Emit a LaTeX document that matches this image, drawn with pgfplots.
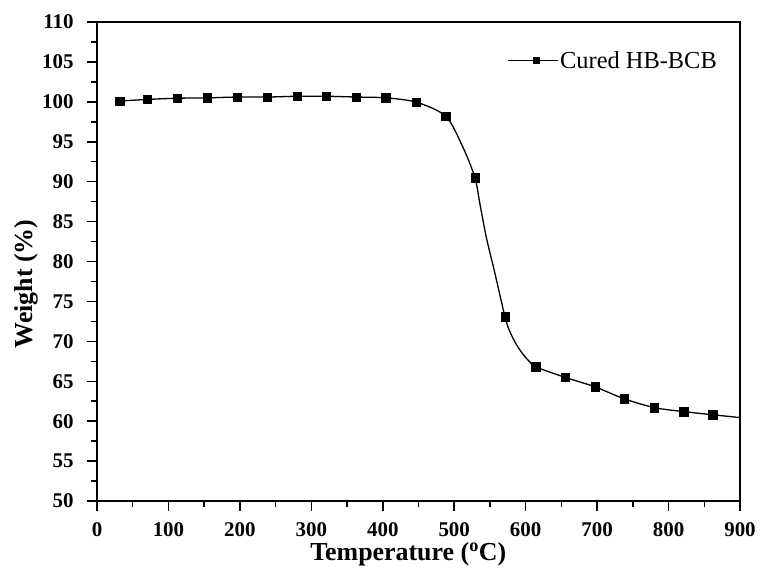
\documentclass[border=0pt]{standalone}
\usepackage{pgfplots}
\pgfplotsset{compat=1.18}
\usepackage{fontspec}
\setmainfont{Liberation Serif}
\begin{document}
\begin{tikzpicture}
\begin{axis}[
  scale only axis,
  width=643bp, height=479bp,
  xmin=0, xmax=900, ymin=50, ymax=110,
  xtick={0,100,...,900}, ytick={50,55,...,110},
  minor x tick num=1, minor y tick num=1,
  axis line style={line width=1.8bp},
  every tick/.style={black, line width=1.5bp},
  major tick length=10bp, minor tick length=5.5bp,
  tick align=outside,
  xtick pos=bottom, ytick pos=left,
  /pgf/number format/assume math mode=true,
  /pgf/number format/1000 sep={},
  ticklabel style={font=\bfseries\fontsize{21}{21}\selectfont},
  xticklabel style={yshift=-8bp},
  yticklabel style={xshift=-10bp},
  xlabel={\bfseries Temperature (\textsuperscript{o}C)},
  ylabel={\bfseries Weight (\%)},
  label style={font=\bfseries\fontsize{26}{26}\selectfont},
  xlabel style={at={(axis description cs:0.484,-0.1245)}, anchor=base},
  ylabel style={at={(axis description cs:-0.1010,0.453)}, anchor=base},
  legend style={draw=none, fill=none, at={(axis description cs:0.972,0.919)}, anchor=east,
    font=\fontsize{24.5}{24.5}\selectfont, legend cell align=left},
  legend image code/.code={
    \draw[line width=1.3bp] (0cm,0cm) -- (50bp,0cm);
    \node[draw=none, fill=black, minimum size=7bp, inner sep=0pt] at (25bp,0cm) {};
  },
]
\addplot[black, line width=1.3bp, smooth, tension=0.5, forget plot] coordinates {
(32,100.1) (70,100.3) (112,100.45) (154,100.5) (196,100.6) (238,100.6)
(280,100.7) (321,100.7) (363,100.6) (404,100.5) (447,99.95) (488,98.2)
(512,94.35) (529,90.5) (536,87.2) (545,83.0) (556,78.9) (571,73.1)
(578,71.2) (587,69.6) (597,68.3) (606,67.4) (614,66.8) (655,65.5)
(697,64.3) (738,62.8) (780,61.7) (821,61.2) (862,60.8) (900,60.45)
};
\addplot[black, only marks, mark=square*, mark size=4.2bp, forget plot] coordinates {
(32,100.1) (70,100.3) (112,100.45) (154,100.5) (196,100.6) (238,100.6)
(280,100.7) (321,100.7) (363,100.6) (404,100.5) (447,99.95) (488,98.2)
(529,90.5) (571,73.1) (614,66.8) (655,65.5) (697,64.3) (738,62.8)
(780,61.7) (821,61.2) (862,60.8)
};
\addlegendimage{black}
\addlegendentry{Cured HB-BCB}
\coordinate (SW) at (rel axis cs:0,0);
\end{axis}
\pgfresetboundingbox
\path[use as bounding box] (SW) ++(-97bp,-70bp) rectangle ++(761bp,571bp);
\end{tikzpicture}
\end{document}
